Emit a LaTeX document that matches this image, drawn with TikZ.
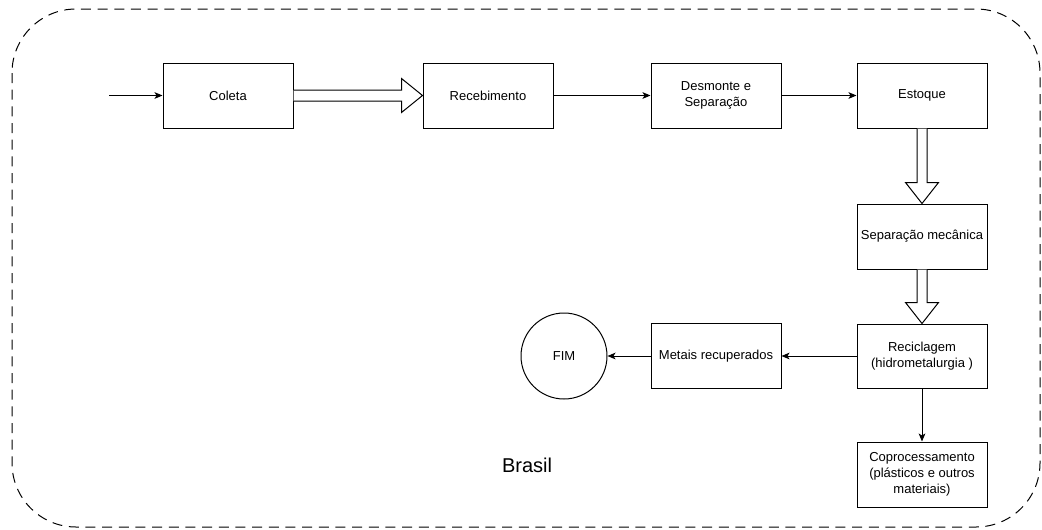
\documentclass[tikz,border=0pt]{standalone}
\usepackage{fontspec}
\setmainfont{Liberation Sans}
\usetikzlibrary{arrows.meta,calc}

\tikzset{
  stepbox/.style={draw=black, line width=0.75pt, fill=white, minimum width=97.5pt,
    minimum height=48.75pt, inner sep=0pt, align=center,
    font=\fontsize{9.75pt}{12pt}\selectfont},
  endcircle/.style={draw=black, line width=0.75pt, circle, minimum size=64.5pt,
    inner sep=0pt, font=\fontsize{9.75pt}{12pt}\selectfont},
  flow/.style={draw=black, line width=0.75pt,
    -{Stealth[length=6pt,width=5pt,inset=1.5pt]}},
  hollow/.style={draw=black, line width=0.75pt, fill=white, line join=miter},
  region/.style={draw=black, line width=0.75pt, dash pattern=on 7.5pt off 5pt,
    rounded corners=48pt}
}

\begin{document}
\begin{tikzpicture}[x=0.75pt, y=-0.75pt]
  \useasboundingbox (0,0) rectangle (1042,529);

  % surrounding region
  \draw[region] (12,9) rectangle (1040,527);
  \node[font=\fontsize{15pt}{18pt}\selectfont] (brasil) at (527,465) {Brasil};

  % process steps
  \coordinate (start) at (109,95.5);
  \node[stepbox] (coleta)  at (228,95.5) {Coleta};
  \node[stepbox] (receb)   at (488,95.5) {Recebimento};
  \node[stepbox] (desm)    at (716,95.5) {Desmonte e\\Separação};
  \node[stepbox] (estoque) at (922,95.5) {Estoque};
  \node[stepbox] (sepmec)  at (922,236.5) {Separação mecânica};
  \node[stepbox, minimum height=48pt] (recic) at (922,356) {Reciclagem\\(hidrometalurgia )};
  \node[stepbox] (copro)   at (922,474.5) {Coprocessamento\\(plásticos e outros\\materiais)};
  \node[stepbox] (metais)  at (716,356) {Metais recuperados};
  \node[endcircle] (fim)   at (564,356) {FIM};

  % simple connectors
  \draw[flow] (start) -- (coleta.west);
  \draw[flow] (receb.east) -- (desm.west);
  \draw[flow] (desm.east) -- (estoque.west);
  \draw[flow] (recic.west) -- (metais.east);
  \draw[flow] (metais.west) -- (fim.east);
  \draw[flow] (recic.south) -- (copro.north);

  % block arrows
  \draw[hollow] ($(coleta.east)+(0,-5.5)$) -- ($(receb.west)+(-21,-5.5)$)
    -- ($(receb.west)+(-21,-17)$) -- (receb.west) -- ($(receb.west)+(-21,17)$)
    -- ($(receb.west)+(-21,5.5)$) -- ($(coleta.east)+(0,5.5)$);
  \draw[hollow] ($(estoque.south)+(-5,0)$) -- ($(sepmec.north)+(-5,-21)$)
    -- ($(sepmec.north)+(-16.5,-21)$) -- (sepmec.north) -- ($(sepmec.north)+(16.5,-21)$)
    -- ($(sepmec.north)+(5,-21)$) -- ($(estoque.south)+(5,0)$);
  \draw[hollow] ($(sepmec.south)+(-5,0)$) -- ($(recic.north)+(-5,-21)$)
    -- ($(recic.north)+(-16.5,-21)$) -- (recic.north) -- ($(recic.north)+(16.5,-21)$)
    -- ($(recic.north)+(5,-21)$) -- ($(sepmec.south)+(5,0)$);
\end{tikzpicture}
\end{document}
